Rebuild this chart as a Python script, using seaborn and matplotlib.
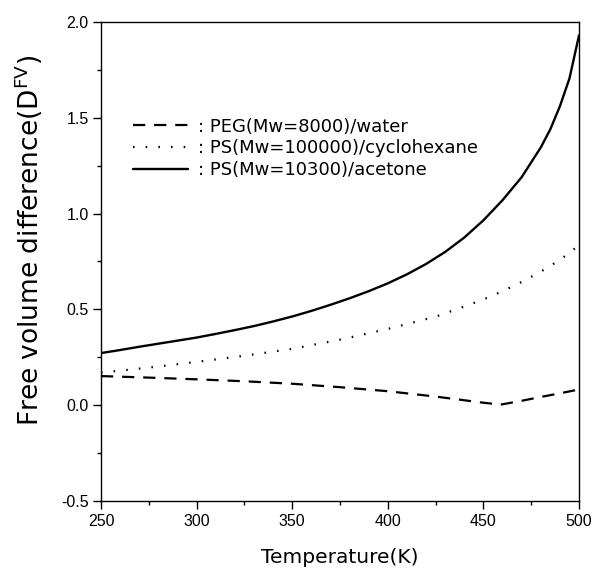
import matplotlib
matplotlib.use("Agg")
import matplotlib.pyplot as plt
import seaborn as sns
import pandas as pd
from matplotlib.ticker import MultipleLocator

# ---- data ----
T_acetone = [250, 260, 270, 280, 290, 300, 310, 320, 330, 340, 350, 360, 370,
             380, 390, 400, 410, 420, 430, 440, 450, 460, 470, 480, 485, 490, 495, 500]
D_acetone = [0.272, 0.288, 0.305, 0.321, 0.337, 0.353, 0.372, 0.392, 0.413, 0.437,
             0.463, 0.492, 0.524, 0.558, 0.595, 0.636, 0.683, 0.737, 0.800, 0.875,
             0.965, 1.070, 1.190, 1.345, 1.440, 1.560, 1.705, 1.930]

T_cyclo = [250, 275, 300, 325, 350, 375, 400, 425, 440, 450, 460, 470, 480, 490, 500]
D_cyclo = [0.170, 0.196, 0.226, 0.258, 0.294, 0.342, 0.398, 0.462, 0.515, 0.552,
           0.595, 0.643, 0.697, 0.758, 0.835]

T_water = [250, 275, 300, 325, 350, 375, 400, 425, 450, 459, 470, 480, 490, 500]
D_water = [0.152, 0.144, 0.135, 0.125, 0.112, 0.094, 0.073, 0.045, 0.013, 0.003,
           0.023, 0.043, 0.062, 0.082]

labels = [": PEG(Mw=8000)/water", ": PS(Mw=100000)/cyclohexane", ": PS(Mw=10300)/acetone"]
x_ticks = [250, 300, 350, 400, 450, 500]
y_ticks = [-0.5, 0.0, 0.5, 1.0, 1.5, 2.0]

sns.set_style("ticks")
plt.rcParams['font.family'] = ['DejaVu Sans']
plt.rcParams['text.color'] = 'black'
plt.rcParams['axes.labelcolor'] = 'black'
plt.rcParams['xtick.color'] = 'black'
plt.rcParams['ytick.color'] = 'black'

fig = plt.figure(figsize=(5.97, 5.72), dpi=100)
ax = fig.add_axes([101/597, 1 - 501/572, 478/597, 479/572])

df_w = pd.DataFrame({"T": T_water, "D": D_water})
df_c = pd.DataFrame({"T": T_cyclo, "D": D_cyclo})
df_a = pd.DataFrame({"T": T_acetone, "D": D_acetone})

sns.lineplot(data=df_w, x="T", y="D", ax=ax, color="black", lw=1.6, label=labels[0])
ax.lines[-1].set_dashes((5.5, 4.0))
sns.lineplot(data=df_c, x="T", y="D", ax=ax, color="black", lw=1.6, label=labels[1])
ax.lines[-1].set_dashes((0.7, 5.0))
sns.lineplot(data=df_a, x="T", y="D", ax=ax, color="black", lw=1.7, label=labels[2])

ax.set_xlim(250, 500)
ax.set_ylim(-0.5, 2.0)
ax.set_xticks(x_ticks)
ax.set_yticks(y_ticks)
ax.set_xticklabels([str(v) for v in x_ticks], fontfamily="Liberation Sans", fontsize=11.5)
ax.set_yticklabels([f"{v:.1f}" for v in y_ticks], fontfamily="Liberation Sans", fontsize=11.5)
ax.xaxis.set_minor_locator(MultipleLocator(25))
ax.yaxis.set_minor_locator(MultipleLocator(0.25))
ax.tick_params(which="major", direction="out", length=6, width=1.0, color="black",
               labelcolor="black", pad=3)
ax.tick_params(which="minor", direction="out", length=3, width=1.0, color="black")
ax.tick_params(top=False, right=False, which="both")
for s in ax.spines.values():
    s.set_visible(True)
    s.set_linewidth(1.0)
    s.set_color("black")

ax.set_xlabel("Temperature(K)", fontsize=14.5, labelpad=14, color="black")
ax.set_ylabel("Free volume difference(D$^{\\mathrm{FV}}$)", fontsize=19, color="black")
ax.yaxis.set_label_coords((45 - 101) / 478, (501 - 240) / 479)

leg = ax.legend(loc="upper left", bbox_to_anchor=(32/478, 1 - (117.5 - 22)/479),
                frameon=False, fontsize=13, handlelength=3.05, handletextpad=0.55,
                labelspacing=0.22, borderpad=0, borderaxespad=0, labelcolor="black")

fig.savefig("out.png", dpi=100)
